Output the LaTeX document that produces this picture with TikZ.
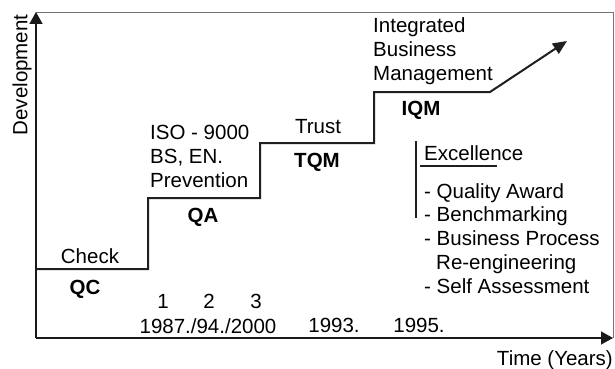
\documentclass[tikz,border=0pt]{standalone}
\usepackage{fontspec}
\setmainfont{Liberation Sans}
\usetikzlibrary{arrows.meta}

\begin{document}
\begin{tikzpicture}[x=1pt, y=-1pt, font=\fontsize{20.5}{23.8}\selectfont,
    every node/.style={inner sep=0pt},
    label text/.style={anchor=base},
    phase/.style={anchor=base, font=\fontsize{20.5}{23.8}\selectfont\bfseries},
    block/.style={anchor=north west, align=left},
    axis/.style={line width=1.4pt, black!90, -{Triangle[length=12pt,width=13pt]}},
    frame line/.style={line width=0.9pt, black!55},
    stair/.style={line width=2pt, black!88, -{Triangle[length=14pt,width=12pt]}},
    bar/.style={line width=1.8pt, black!88}]

  \useasboundingbox (0,0) rectangle (615,369);

  % axes and frame
  \coordinate (origin) at (36,338);
  \coordinate (ytop) at (36,12);
  \coordinate (xend) at (613,338);
  \coordinate (corner) at (613,12);
  \draw[frame line] (ytop) -- (corner) -- (xend);
  \draw[axis] (origin) -- (ytop);
  \draw[axis] (origin) -- (xend);

  \node[rotate=90] (dev) at (22,75) {Development};
  \node[anchor=base east] (time) at (613,365) {Time (Years)};

  % the steps
  \coordinate (qc start) at (36,269);
  \coordinate (qc end) at (148,269);
  \coordinate (qa end) at (260,198);
  \coordinate (tqm end) at (374,143);
  \coordinate (iqm end) at (490,92);
  \coordinate (tip) at (567,41);
  \draw[stair] (qc start) -- (qc end) |- (qa end) |- (tqm end) |- (iqm end) -- (tip);

  % QC
  \node[label text] (check) at (90,263) {Check};
  \node[phase] (qc) at (85,294) {QC};

  % QA
  \node[block] (iso) at (150,125) {ISO - 9000\\BS, EN.\\Prevention};
  \node[phase] (qa) at (203,222) {QA};

  % TQM
  \node[label text] (trust) at (318,133) {Trust};
  \node[phase] (tqm) at (317,167) {TQM};

  % IQM
  \node[block] (ibm) at (373,17.5) {Integrated\\Business\\Management};
  \node[phase] (iqm) at (421,115) {IQM};

  % excellence
  \coordinate (bar top) at (416,141);
  \coordinate (bar bottom) at (416,218);
  \draw[bar] (bar top) -- (bar bottom);
  \node[anchor=base west] (excellence) at (424,160) {Excellence};
  \coordinate (ul left) at (420,166);
  \coordinate (ul right) at (497,166);
  \draw[line width=1.2pt, black!88] (ul left) -- (ul right);
  \node[block] (tools) at (424,183) {- Quality Award\\- Benchmarking\\- Business Process\\\hspace*{12pt}Re-engineering\\- Self Assessment};

  % years
  \node[label text] (one) at (163,308) {1};
  \node[label text] (two) at (209,308) {2};
  \node[label text] (three) at (256,308) {3};
  \node[label text] (iso years) at (208,333) {1987./94./2000};
  \node[label text] (y93) at (334,332) {1993.};
  \node[label text] (y95) at (419,332) {1995.};
\end{tikzpicture}
\end{document}
